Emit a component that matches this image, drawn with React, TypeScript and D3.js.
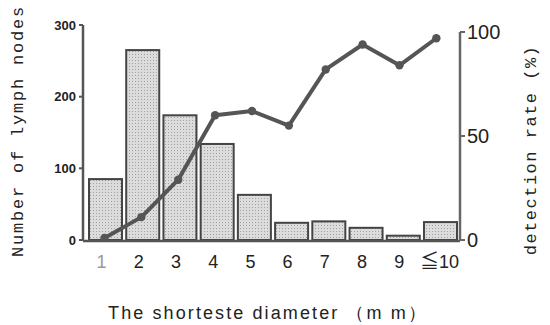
import React from "react";
import * as d3 from "d3";

const categories = ["1", "2", "3", "4", "5", "6", "7", "8", "9", "≦10"];
const lymphNodes = [85, 265, 174, 134, 63, 24, 26, 17, 6, 25];
const detectionRate = [1, 11, 29, 60, 62, 55, 82, 94, 84, 97];
const leftTicks = [0, 100, 200, 300];
const rightTicks = [0, 50, 100];

const W = 550;
const H = 325;

export default function App() {
  const x = d3.scaleBand<string>().domain(categories).range([89, 457]).paddingInner(0.113).paddingOuter(0);
  const yL = d3.scaleLinear().domain([0, 300]).range([240, 25]);
  const yR = d3.scaleLinear().domain([0, 100]).range([240, 32]);
  const bw = x.bandwidth();
  const cx = (c: string, i: number) => (x(c) as number) + bw / 2 - 1 - i * 0.35;
  const line = d3
    .line<number>()
    .x((_, i) => cx(categories[i], i))
    .y((d) => yR(d));
  const axisColor = "#555";
  return (
    <svg width={W} height={H} style={{ position: "absolute", left: 0, top: 0, background: "#fff" }}>
      <defs>
        <pattern id="dots" width="3" height="3" patternUnits="userSpaceOnUse">
          <rect width="3" height="3" fill="#dcdcdc" />
          <rect width="1" height="1" fill="#a0a0a0" />
        </pattern>
      </defs>
      {/* bars */}
      {lymphNodes.map((v, i) => (
        <rect
          key={i}
          x={x(categories[i])}
          y={yL(v)}
          width={bw}
          height={yL(0) - yL(v)}
          fill="url(#dots)"
          stroke="#444"
          strokeWidth={2}
        />
      ))}
      {/* left axis */}
      <line x1={83} x2={83} y1={yL(300)} y2={yL(0) + 1} stroke={axisColor} strokeWidth={2.5} />
      {leftTicks.map((t) => (
        <g key={t}>
          <line x1={79} x2={83} y1={yL(t)} y2={yL(t)} stroke={axisColor} strokeWidth={2} />
          <text
            x={76}
            y={yL(t)}
            dy="0.35em"
            textAnchor="end"
            fontFamily="Liberation Sans, Arial, sans-serif"
            fontWeight="bold"
            fontSize={13}
            fill="#222"
          >
            {t}
          </text>
        </g>
      ))}
      {/* bottom axis */}
      <line x1={83} x2={460} y1={241} y2={241} stroke={axisColor} strokeWidth={2.5} />
      {/* right axis */}
      <line x1={460} x2={460} y1={yR(100)} y2={241} stroke="#666" strokeWidth={2.5} />
      {rightTicks.map((t) => (
        <g key={t}>
          <line x1={460} x2={465} y1={yR(t)} y2={yR(t)} stroke="#666" strokeWidth={2} />
          <text
            x={467}
            y={yR(t)}
            dy="0.36em"
            textAnchor="start"
            fontFamily="Liberation Sans, Arial, sans-serif"
            fontSize={20}
            fill="#222"
          >
            {t}
          </text>
        </g>
      ))}
      {/* x tick labels */}
      {categories.map((c, i) => (
        <text
          key={c}
          x={(x(c) as number) + bw / 2 - 4 + (i === 9 ? 3 : 0)}
          y={268}
          textAnchor="middle"
          fontFamily="Liberation Sans, Arial, sans-serif"
          fontSize={18}
          fill={i === 0 ? "#999" : "#222"}
        >
          {c.startsWith("≦") ? (
            <>
              <tspan fontFamily="Noto Sans CJK JP, sans-serif" fontSize={19}>
                {c.slice(0, 1)}
              </tspan>
              <tspan>{c.slice(1)}</tspan>
            </>
          ) : (
            c
          )}
        </text>
      ))}
      {/* line series */}
      <path d={line(detectionRate) as string} fill="none" stroke="#555" strokeWidth={4} strokeLinejoin="round" />
      {detectionRate.map((v, i) => (
        <circle key={i} cx={cx(categories[i], i)} cy={yR(v)} r={4.2} fill="#555" />
      ))}
      {/* axis titles */}
      <text
        transform={`translate(23,131) rotate(-90)`}
        textAnchor="middle"
        fontFamily="Liberation Mono, DejaVu Sans Mono, monospace"
        fontSize={17}
        letterSpacing={1.8}
        fill="#222"
      >
        Number of lymph nodes
      </text>
      <text
        transform={`translate(536,150) rotate(-90)`}
        textAnchor="middle"
        fontFamily="Liberation Mono, DejaVu Sans Mono, monospace"
        fontSize={17}
        letterSpacing={1.5}
        fill="#222"
      >
        detection rate (%)
      </text>
      <text
        x={268}
        y={319}
        textAnchor="middle"
        fontFamily="Liberation Sans, Arial, sans-serif"
        fontSize={18}
        letterSpacing={2.1}
        fill="#222"
      >
        The shorteste diameter （m m）
      </text>
    </svg>
  );
}
